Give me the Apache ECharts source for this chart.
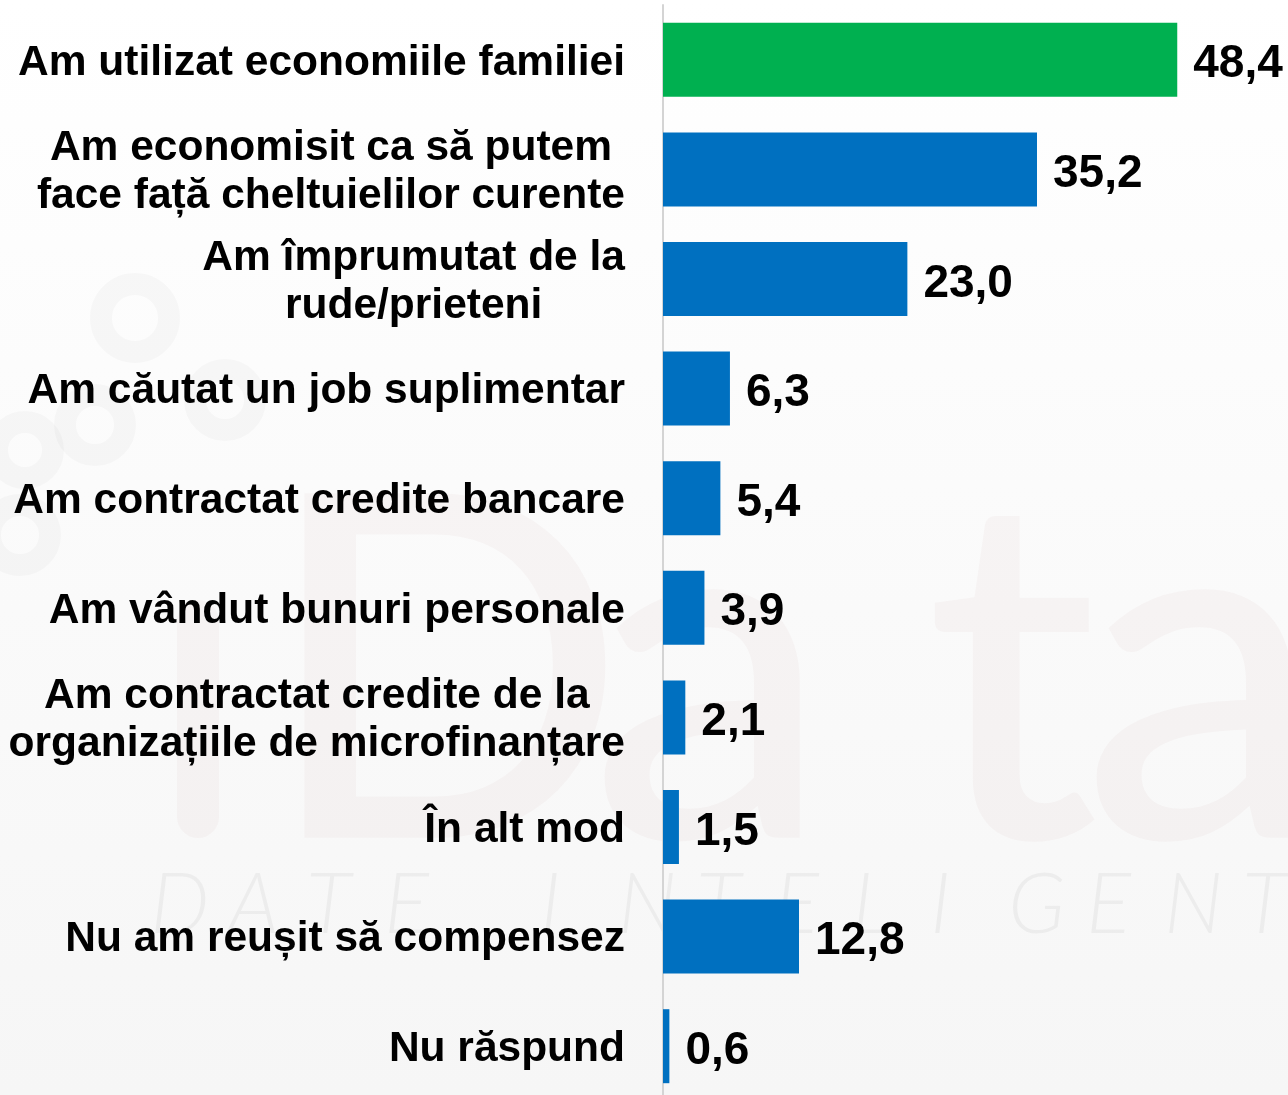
<!DOCTYPE html>
<html>
<head>
<meta charset="utf-8">
<script src="https://cdn.jsdelivr.net/npm/echarts@6/dist/echarts.min.js"></script>
<style>
	html, body { margin: 0; padding: 0; }
	#chart { width: 1288px; height: 1095px; }
</style>
</head>
<body>
<div id="chart"></div>
<script>
var categories = [
	'Am utilizat economiile familiei',
	'Am economisit ca să putem\nface față cheltuielilor curente',
	'Am împrumutat de la\nrude/prieteni',
	'Am căutat un job suplimentar',
	'Am contractat credite bancare',
	'Am vândut bunuri personale',
	'Am contractat credite de la\norganizațiile de microfinanțare',
	'În alt mod',
	'Nu am reușit să compensez',
	'Nu răspund'
];
var values = [48.4, 35.2, 23.0, 6.3, 5.4, 3.9, 2.1, 1.5, 12.8, 0.6];
var highlightColor = '#00B050';
var barColor = '#0070C0';
var font = "'Liberation Sans', Arial, sans-serif";

// logo-ul iData din fundal, foarte sters
var wm = [];
var logoFill = 'rgba(190,140,140,0.06)';
[['D', 262], ['a', 590], ['t', 925], ['a', 1082]].forEach(function (l) {
	wm.push({
		type: 'text', silent: true, z: -2,
		x: l[1], y: 683,
		style: {text: l[0], fill: logoFill, font: '500 480px Lato, sans-serif', verticalAlign: 'middle'}
	});
});
wm.push({
	type: 'rect', silent: true, z: -2,
	shape: {x: 177, y: 600, width: 42, height: 238, r: 21},
	style: {fill: logoFill}
});
[[135, 318, 34], [225, 400, 30], [95, 425, 30], [25, 450, 28], [20, 535, 30]].forEach(function (c) {
	wm.push({
		type: 'circle', silent: true, z: -2,
		shape: {cx: c[0], cy: c[1], r: c[2]},
		style: {fill: 'none', stroke: 'rgba(0,0,0,0.025)', lineWidth: 22}
	});
});
// "DATE INTELIGENTE"
'DATE INTELIGENTE'.split('').forEach(function (ch, k) {
	if (ch === ' ') return;
	wm.push({
		type: 'text', silent: true, z: -1,
		x: 150 + k * 78, y: 906,
		style: {text: ch, fill: 'rgba(0,0,0,0.045)', font: 'italic 300 84px Lato, sans-serif', verticalAlign: 'middle'}
	});
});

var myChart = echarts.init(document.getElementById('chart'));
var option = {
	backgroundColor: {
		type: 'linear', x: 0, y: 0, x2: 0, y2: 1,
		colorStops: [{offset: 0, color: '#ffffff'}, {offset: 1, color: '#f6f6f6'}]
	},
	animation: false,
	graphic: wm,
	grid: {
		left: 663,
		top: 5,
		width: 595,
		height: 1096,
		outerBoundsMode: 'none'
	},
	xAxis: {
		type: 'value',
		min: 0,
		max: 56,
		show: false
	},
	yAxis: {
		type: 'category',
		inverse: true,
		data: categories,
		axisTick: {show: false},
		axisLine: {lineStyle: {color: '#d4d4d4', width: 2}},
		axisLabel: {
			interval: 0,
			margin: 38,
			padding: [6, 0, 0, 0],
			formatter: function (v) {
				// fiecare rand centrat in blocul aliniat la dreapta
				return v.split('\n').map(function (l) { return '{c|' + l + '}'; }).join('\n');
			},
			rich: {
				c: {
					align: 'center',
					fontSize: 42.5,
					fontWeight: 'bold',
					fontFamily: font,
					lineHeight: 48,
					color: '#000'
				}
			}
		}
	},
	series: [{
		type: 'bar',
		data: values,
		barWidth: 74,
		itemStyle: {
			color: function (p) { return p.dataIndex === 0 ? highlightColor : barColor; }
		},
		label: {
			show: true,
			position: 'right',
			distance: 16,
			offset: [0, 5],
			fontSize: 46,
			fontWeight: 'bold',
			fontFamily: font,
			color: '#000',
			formatter: function (p) { return p.value.toFixed(1).replace('.', ','); }
		}
	}]
};
myChart.setOption(option);
</script>
</body>
</html>
